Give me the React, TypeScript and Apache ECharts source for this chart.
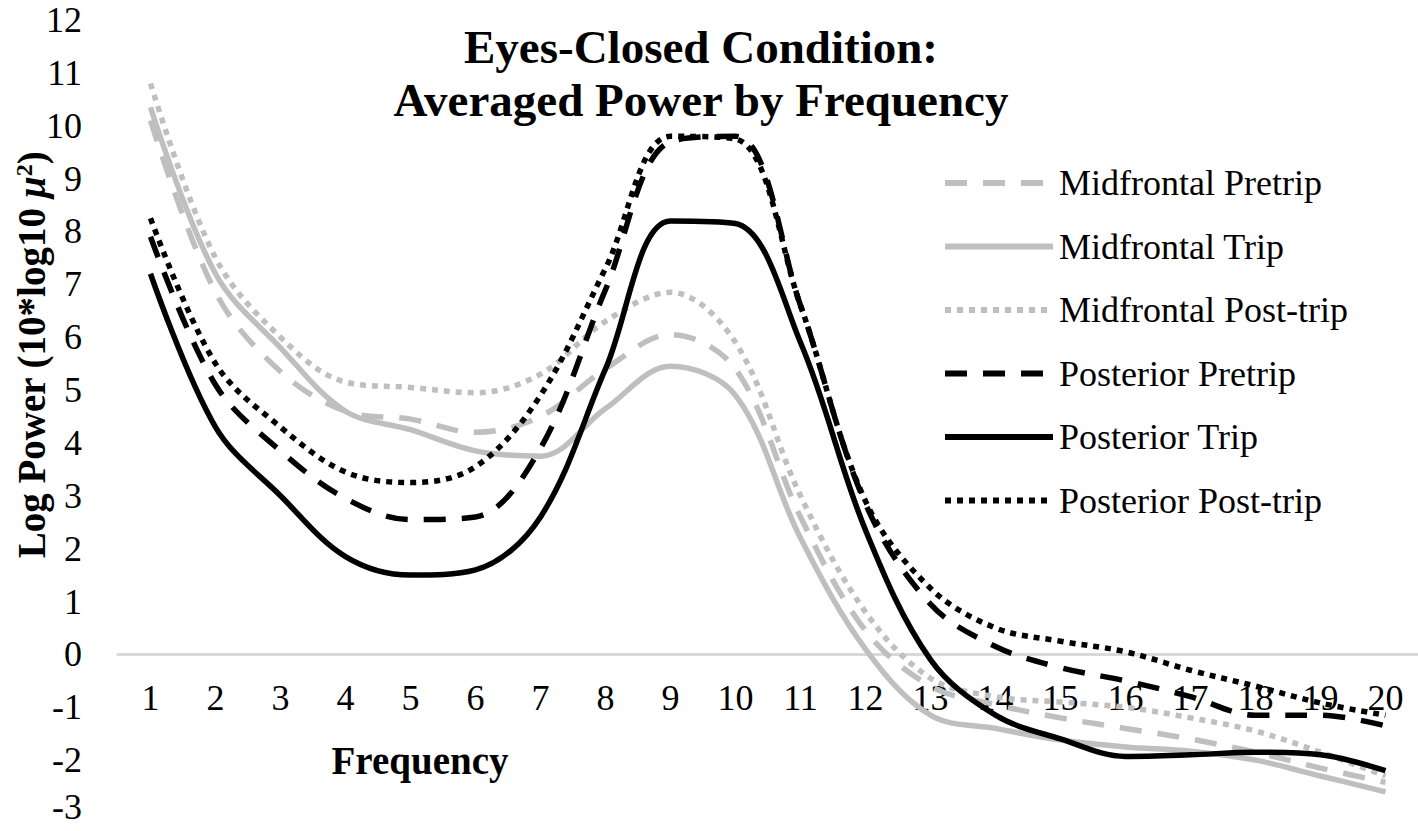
import React, { useEffect, useRef } from "react";
import * as echarts from "echarts";

const FONT = '"Liberation Serif", "Times New Roman", serif';

const categories = ["1","2","3","4","5","6","7","8","9","10","11","12","13","14","15","16","17","18","19","20"];

const seriesNames = [
  "Midfrontal Pretrip",
  "Midfrontal Trip",
  "Midfrontal Post-trip",
  "Posterior Pretrip",
  "Posterior Trip",
  "Posterior Post-trip",
];

const midfrontalPretrip = [10.1, 6.85, 5.35, 4.6, 4.45, 4.2, 4.5, 5.4, 6.05, 5.4, 2.6, 0.45, -0.6, -0.95, -1.2, -1.4, -1.6, -1.85, -2.15, -2.42];
const midfrontalTrip = [10.35, 7.2, 5.8, 4.6, 4.25, 3.85, 3.75, 4.65, 5.45, 4.9, 2.2, 0.1, -1.15, -1.4, -1.62, -1.75, -1.83, -2.0, -2.3, -2.6];
const midfrontalPostTrip = [10.8, 7.5, 6.0, 5.15, 5.05, 4.95, 5.3, 6.3, 6.85, 5.9, 3.0, 0.8, -0.45, -0.8, -0.9, -1.0, -1.2, -1.45, -1.85, -2.3];
const posteriorPretrip = [7.9, 5.1, 3.85, 2.95, 2.55, 2.6, 3.9, 6.9, 9.7, 9.8, 6.6, 2.85, 0.95, 0.15, -0.25, -0.5, -0.8, -1.15, -1.15, -1.35];
const posteriorTrip = [7.2, 4.3, 3.0, 1.85, 1.5, 1.6, 2.6, 5.4, 8.2, 8.15, 5.9, 2.35, -0.1, -1.15, -1.6, -1.93, -1.9, -1.85, -1.9, -2.2];
const posteriorPostTrip = [8.25, 5.5, 4.3, 3.45, 3.25, 3.55, 4.9, 7.3, 9.8, 9.75, 6.6, 2.9, 1.25, 0.5, 0.25, 0.05, -0.3, -0.6, -0.92, -1.15];

const GRAY = "#bfbfbf";
const BLACK = "#000000";
const DASH = [22, 16];
const DOT = [6, 6];

const seriesValues = [midfrontalPretrip, midfrontalTrip, midfrontalPostTrip, posteriorPretrip, posteriorTrip, posteriorPostTrip];
const seriesColors = [GRAY, GRAY, GRAY, BLACK, BLACK, BLACK];
const seriesDash: any[] = [DASH, "solid", DOT, DASH, "solid", DOT];

export default function App() {
  const ref = useRef<HTMLDivElement>(null);
  useEffect(() => {
    if (!ref.current) return;
    const chart = echarts.init(ref.current, null, { renderer: "svg" });
    const option: any = {
      animation: false,
      backgroundColor: "#ffffff",
      grid: { left: 118, right: 0, top: 20, bottom: 18, containLabel: false, outerBoundsMode: "none" },
      xAxis: {
        type: "category",
        data: categories,
        boundaryGap: true,
        axisLine: { show: true, onZero: true, lineStyle: { color: "#d9d9d9", width: 3 } },
        axisTick: { show: false },
        splitLine: { show: false },
        axisLabel: { fontSize: 36, color: "#000", fontFamily: FONT, margin: -133, interval: 0 },
      },
      yAxis: {
        type: "value",
        min: -3,
        max: 12,
        interval: 1,
        axisLine: { show: false },
        axisTick: { show: false },
        splitLine: { show: false },
        axisLabel: {
          fontSize: 36,
          lineHeight: 26,
          color: "#000",
          fontFamily: FONT,
          margin: 36,
          formatter: (v: number) => (v === -3 ? "{low|-3}" : String(v)),
          rich: {
            low: { fontSize: 36, lineHeight: 26, fontFamily: FONT, color: "#000", padding: [0, 0, 12, 0] },
          },
        },
      },
      legend: {
        orient: "vertical",
        left: 942,
        top: 163,
        padding: 0,
        itemWidth: 108,
        itemHeight: 14,
        itemGap: 23.5,
        data: seriesNames,
        itemStyle: { opacity: 0 },
        lineStyle: { width: 6 },
        textStyle: { fontSize: 36, fontFamily: FONT, color: "#000", lineHeight: 40, padding: [0, 0, 0, 1] },
      },
      series: seriesNames.map((name, i) => ({
        name,
        type: "line",
        data: seriesValues[i],
        smooth: 0.35,
        symbol: "none",
        showSymbol: false,
        lineStyle: { color: seriesColors[i], width: 5.5, type: seriesDash[i], cap: "butt" },
        itemStyle: { color: seriesColors[i] },
      })),
      graphic: [
        {
          type: "text",
          x: 701,
          y: 20,
          style: {
            text: "Eyes-Closed Condition:\nAveraged Power by Frequency",
            fontSize: 47,
            fontWeight: "bold",
            fontFamily: FONT,
            lineHeight: 53,
            align: "center",
            verticalAlign: "top",
            fill: "#000",
          },
        },
        {
          type: "text",
          x: 420,
          y: 760,
          style: {
            text: "Frequency",
            fontSize: 39,
            fontWeight: "bold",
            fontFamily: FONT,
            align: "center",
            verticalAlign: "middle",
            fill: "#000",
          },
        },
        {
          type: "text",
          x: 31,
          y: 355,
          rotation: Math.PI / 2,
          style: {
            text: "{b|Log Power (10*log10 }{i|μ}{s|2}{b|)}",
            align: "center",
            verticalAlign: "middle",
            fill: "#000",
            rich: {
              b: { fontSize: 39, fontWeight: "bold", fontFamily: FONT, fill: "#000" },
              i: { fontSize: 39, fontWeight: "bold", fontStyle: "italic", fontFamily: FONT, fill: "#000" },
              s: { fontSize: 24, fontWeight: "bold", fontFamily: FONT, verticalAlign: "top", fill: "#000" },
            },
          },
        },
      ],
    };
    chart.setOption(option);
    return () => chart.dispose();
  }, []);
  return (
    <div
      ref={ref}
      style={{ position: "absolute", left: 0, top: 0, width: 1418, height: 831 }}
    />
  );
}
